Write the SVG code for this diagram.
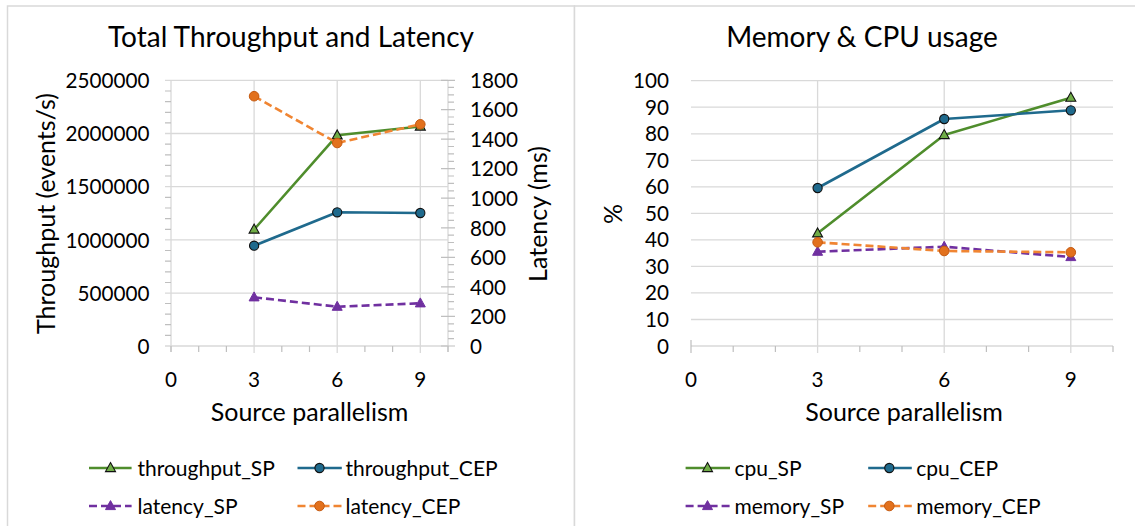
<svg xmlns="http://www.w3.org/2000/svg" width="1135" height="526" viewBox="0 0 1135 526">
  <style>
    text { font-family: Lato, "Open Sans", "Liberation Sans", sans-serif; fill: #000; }
    .title { font-size: 28px; text-anchor: middle; }
    .axt { font-size: 25px; text-anchor: middle; }
    .tick { font-size: 20.7px; }
    .tl { text-anchor: end; }
    .tc { text-anchor: middle; }
    .leg { font-size: 21px; }
    .frame { fill: #fff; stroke: #d9d9d9; stroke-width: 1.5; }
    .grid { stroke: #d9d9d9; stroke-width: 1.3; fill: none; }
    .tk { stroke: #bfbfbf; stroke-width: 1.2; fill: none; }
    .s { fill: none; stroke-width: 2.6; stroke-linejoin: round; }
    .green { stroke: #4f8d2c; }
    .blue { stroke: #1f6a8d; }
    .purple { stroke: #7030a0; stroke-dasharray: 8 4; }
    .orange { stroke: #f08532; stroke-dasharray: 8 4; }
  </style>
  <defs>
    <marker id="mTriG" markerUnits="userSpaceOnUse" markerWidth="14" markerHeight="14" refX="7" refY="7" orient="0" overflow="visible">
      <path d="M7,1.6 L12,10.6 L2,10.6 Z" fill="#70ad47" stroke="#111" stroke-width="1.1"/>
    </marker>
    <marker id="mCirB" markerUnits="userSpaceOnUse" markerWidth="14" markerHeight="14" refX="7" refY="7" orient="0" overflow="visible">
      <circle cx="7" cy="7" r="4.6" fill="#1f6a8d" stroke="#111" stroke-width="1.1"/>
    </marker>
    <marker id="mTriP" markerUnits="userSpaceOnUse" markerWidth="14" markerHeight="14" refX="7" refY="7" orient="0" overflow="visible">
      <path d="M7,1.6 L12,10.6 L2,10.6 Z" fill="#7030a0" stroke="#7030a0" stroke-width="1"/>
    </marker>
    <marker id="mCirO" markerUnits="userSpaceOnUse" markerWidth="14" markerHeight="14" refX="7" refY="7" orient="0" overflow="visible">
      <circle cx="7" cy="7" r="4.8" fill="#e2711d" stroke="#c55a11" stroke-width="1"/>
    </marker>
  </defs>

  <rect width="1135" height="526" fill="#fff"/>

  <!-- ===== Left chart: throughput and latency ===== -->
  <g id="chart-throughput">
    <rect class="frame" x="7.5" y="6" width="567" height="530"/>
    <text class="title" x="291" y="47">Total Throughput and Latency</text>

    <g id="tp-grid">
      <path class="grid" d="M165,80.3H448 M165,133.5H448 M165,186.7H448 M165,239.9H448 M165,293.1H448"/>
      <path class="grid" d="M254.1,80.3V353 M337.2,80.3V353 M420.3,80.3V353"/>
      <!-- axis lines -->
      <path class="grid" d="M171,80.3V352 M448,80.3V352 M165,346H448"/>
      <!-- left axis minor ticks (every 100000) -->
      <path class="tk" d="M165,335.4H171 M165,324.7H171 M165,314.1H171 M165,303.5H171
        M165,282.5H171 M165,271.9H171 M165,261.2H171 M165,250.5H171
        M165,229.3H171 M165,218.6H171 M165,208H171 M165,197.4H171
        M165,176H171 M165,165.4H171 M165,154.8H171 M165,144.1H171
        M165,122.9H171 M165,112.3H171 M165,101.6H171 M165,91H171"/>
      <!-- right axis ticks: major every 200 ms, minor every 50 ms -->
      <path class="tk" d="M441,346H455 M441,316.4H455 M441,286.9H455 M441,257.3H455 M441,227.8H455
        M441,198.2H455 M441,168.7H455 M441,139.1H455 M441,109.6H455 M441,80.3H455"/>
      <path class="tk" d="M448,338.6H454 M448,331.2H454 M448,323.8H454 M448,309H454 M448,301.6H454 M448,294.3H454
        M448,279.5H454 M448,272.1H454 M448,264.7H454 M448,249.9H454 M448,242.5H454 M448,235.1H454
        M448,220.4H454 M448,213H454 M448,205.6H454 M448,190.8H454 M448,183.4H454 M448,176H454
        M448,161.3H454 M448,153.9H454 M448,146.5H454 M448,131.7H454 M448,124.3H454 M448,117H454
        M448,102.2H454 M448,94.8H454 M448,87.4H454"/>
      <!-- x axis ticks -->
      <path class="tk" d="M171,346V352 M198.7,346V352 M226.4,346V352 M281.8,346V352 M309.5,346V352
        M364.9,346V352 M392.6,346V352 M448,346V352"/>
    </g>

    <g id="tp-labels">
      <text class="tick tl" x="149.5" y="88">2500000</text>
      <text class="tick tl" x="149.5" y="141.2">2000000</text>
      <text class="tick tl" x="149.5" y="194.4">1500000</text>
      <text class="tick tl" x="149.5" y="247.6">1000000</text>
      <text class="tick tl" x="149.5" y="300.8">500000</text>
      <text class="tick tl" x="149.5" y="353.7">0</text>

      <text class="tick" x="470" y="88">1800</text>
      <text class="tick" x="470" y="117.3">1600</text>
      <text class="tick" x="470" y="146.8">1400</text>
      <text class="tick" x="470" y="176.4">1200</text>
      <text class="tick" x="470" y="205.9">1000</text>
      <text class="tick" x="470" y="235.5">800</text>
      <text class="tick" x="470" y="265">600</text>
      <text class="tick" x="470" y="294.6">400</text>
      <text class="tick" x="470" y="324.1">200</text>
      <text class="tick" x="470" y="353.7">0</text>

      <text class="tick tc" x="171" y="387">0</text>
      <text class="tick tc" x="254.1" y="387">3</text>
      <text class="tick tc" x="337.2" y="387">6</text>
      <text class="tick tc" x="420.3" y="387">9</text>

      <text class="axt" x="309.5" y="421">Source parallelism</text>
      <text class="axt" transform="translate(55,213.5) rotate(-90)">Throughput (events/s)</text>
      <text class="axt" transform="translate(547,214) rotate(-90)">Latency (ms)</text>
    </g>

    <g id="tp-series">
      <polyline class="s green" points="254.1,229.5 337.2,135.3 420.3,126.5" marker-start="url(#mTriG)" marker-mid="url(#mTriG)" marker-end="url(#mTriG)"/>
      <polyline class="s blue" points="254.1,245.7 337.2,212.3 420.3,213" marker-start="url(#mCirB)" marker-mid="url(#mCirB)" marker-end="url(#mCirB)"/>
      <polyline class="s purple" points="254.1,297.3 337.2,306.7 420.3,303.3" marker-start="url(#mTriP)" marker-mid="url(#mTriP)" marker-end="url(#mTriP)"/>
      <polyline class="s orange" points="254.1,96.2 337.2,143 420.3,124.3" marker-start="url(#mCirO)" marker-mid="url(#mCirO)" marker-end="url(#mCirO)"/>
    </g>

    <g id="tp-legend">
      <polyline class="s green" points="89,468 110.5,468 131.6,468" marker-mid="url(#mTriG)"/>
      <text class="leg" x="137.5" y="475.5">throughput_SP</text>
      <polyline class="s blue" points="297.5,468 319.5,468 341.8,468" marker-mid="url(#mCirB)"/>
      <text class="leg" x="345.5" y="475.5">throughput_CEP</text>
      <polyline class="s purple" points="89,506 110.5,506 131.6,506" marker-mid="url(#mTriP)"/>
      <text class="leg" x="137.5" y="513.5">latency_SP</text>
      <polyline class="s orange" points="297.5,506 319.5,506 341.8,506" marker-mid="url(#mCirO)"/>
      <text class="leg" x="345.5" y="513.5">latency_CEP</text>
    </g>
  </g>

  <!-- ===== Right chart: memory and CPU ===== -->
  <g id="chart-usage">
    <rect class="frame" x="574.5" y="6" width="580" height="530"/>
    <text class="title" x="862" y="47">Memory &amp; CPU usage</text>

    <g id="us-grid">
      <path class="grid" d="M691,80.7H1113 M691,107.2H1113 M691,133.8H1113 M691,160.3H1113 M691,186.8H1113
        M691,213.4H1113 M691,239.9H1113 M691,266.4H1113 M691,292.9H1113 M691,319.5H1113"/>
      <path class="grid" d="M817.6,80.7V353 M944.2,80.7V353 M1070.8,80.7V353"/>
      <path class="grid" d="M691,346H1113"/>
      <path class="tk" d="M691,340V353 M733.2,346V352 M775.4,346V352 M859.8,346V352 M902,346V352
        M986.4,346V352 M1028.6,346V352 M1113,346V352"/>
    </g>

    <g id="us-labels">
      <text class="tick tl" x="669" y="88.2">100</text>
      <text class="tick tl" x="669" y="114.7">90</text>
      <text class="tick tl" x="669" y="141.3">80</text>
      <text class="tick tl" x="669" y="167.8">70</text>
      <text class="tick tl" x="669" y="194.3">60</text>
      <text class="tick tl" x="669" y="220.9">50</text>
      <text class="tick tl" x="669" y="247.4">40</text>
      <text class="tick tl" x="669" y="273.9">30</text>
      <text class="tick tl" x="669" y="300.4">20</text>
      <text class="tick tl" x="669" y="327">10</text>
      <text class="tick tl" x="669" y="353.5">0</text>

      <text class="tick tc" x="691" y="387">0</text>
      <text class="tick tc" x="817.6" y="387">3</text>
      <text class="tick tc" x="944.2" y="387">6</text>
      <text class="tick tc" x="1070.8" y="387">9</text>

      <text class="axt" x="904" y="421">Source parallelism</text>
      <text class="axt" transform="translate(622,214) rotate(-90)">%</text>
    </g>

    <g id="us-series">
      <polyline class="s green" points="817.6,233.3 944.2,135 1070.8,97.7" marker-start="url(#mTriG)" marker-mid="url(#mTriG)" marker-end="url(#mTriG)"/>
      <polyline class="s blue" points="817.6,188 944.2,119 1070.8,110.3" marker-start="url(#mCirB)" marker-mid="url(#mCirB)" marker-end="url(#mCirB)"/>
      <polyline class="s purple" points="817.6,251.7 944.2,246.7 1070.8,257" marker-start="url(#mTriP)" marker-mid="url(#mTriP)" marker-end="url(#mTriP)"/>
      <polyline class="s orange" points="817.6,242.3 944.2,251 1070.8,252.3" marker-start="url(#mCirO)" marker-mid="url(#mCirO)" marker-end="url(#mCirO)"/>
    </g>

    <g id="us-legend">
      <polyline class="s green" points="685.6,468 707.5,468 730,468" marker-mid="url(#mTriG)"/>
      <text class="leg" x="734.4" y="475.5">cpu_SP</text>
      <polyline class="s blue" points="868.2,468 889.3,468 911.8,468" marker-mid="url(#mCirB)"/>
      <text class="leg" x="916.2" y="475.5">cpu_CEP</text>
      <polyline class="s purple" points="685.6,506 707.5,506 730,506" marker-mid="url(#mTriP)"/>
      <text class="leg" x="734.4" y="513.5">memory_SP</text>
      <polyline class="s orange" points="868.2,506 889.3,506 911.8,506" marker-mid="url(#mCirO)"/>
      <text class="leg" x="916.2" y="513.5">memory_CEP</text>
    </g>
  </g>
</svg>
